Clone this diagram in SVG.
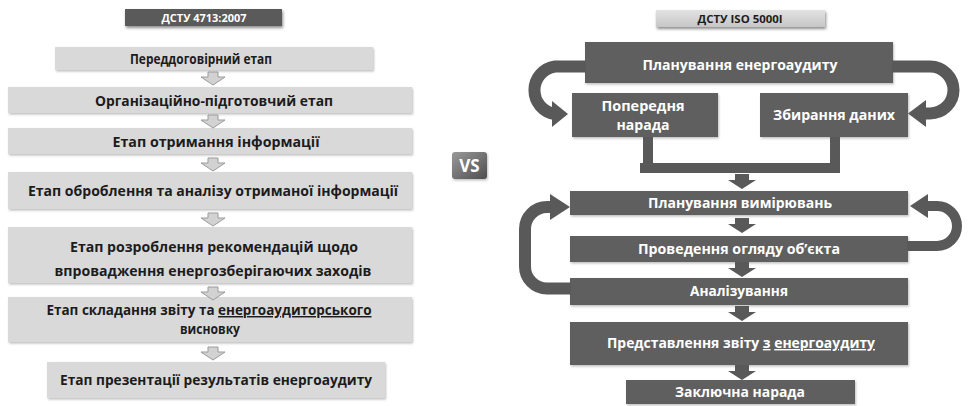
<svg xmlns="http://www.w3.org/2000/svg" xmlns:xlink="http://www.w3.org/1999/xlink" width="973" height="406" viewBox="0 0 973 406">
<style>
text{font-family:"Open Sans","Noto Sans","DejaVu Sans",sans-serif;font-weight:700;text-anchor:middle}
.lb{fill:#d9d9d9;filter:url(#sh)}
.lt{fill:#1c1c1c;font-size:14.5px}
.rb{fill:#5e5e5e;filter:url(#sh)}
.rt{fill:#ffffff;font-size:14px}
.la{fill:#d2d2d2;stroke:#9a9a9a;stroke-width:1}
.ra{fill:#595959}
.band{fill:none;stroke:#595959;stroke-width:12}
.ul{text-decoration:underline}
</style>
<defs>
<filter id="sh" x="-5%" y="-20%" width="110%" height="150%">
<feDropShadow dx="1" dy="1.5" stdDeviation="1" flood-color="#000" flood-opacity="0.25"/>
</filter>
<filter id="sh2" x="-10%" y="-30%" width="120%" height="180%">
<feDropShadow dx="1" dy="2" stdDeviation="1.5" flood-color="#000" flood-opacity="0.45"/>
</filter>
<linearGradient id="gt" x1="0" y1="0" x2="0" y2="1">
<stop offset="0" stop-color="#e2e2e2"/><stop offset="1" stop-color="#c6c6c6"/>
</linearGradient>
<linearGradient id="gvs" x1="0" y1="0" x2="1" y2="1">
<stop offset="0" stop-color="#9a9a9a"/><stop offset="1" stop-color="#4e4e4e"/>
</linearGradient>
<path id="la" d="M-5,0 H5 V5 H12 L0,13 L-12,5 H-5 Z"/>
<path id="ra" d="M-7,0 H7 V6 H14 L0,15 L-14,6 H-7 Z"/>
</defs>

<!-- Left column -->
<g id="title-left">
<rect x="125" y="9" width="157" height="17" fill="#5a5a5a" filter="url(#sh2)"/>
<text x="204" y="21.5" fill="#fff" font-size="10.5" textLength="85" lengthAdjust="spacingAndGlyphs">ДСТУ 4713:2007</text>
</g>
<g id="l1">
<rect class="lb" x="55" y="47" width="318" height="23"/>
<text class="lt" x="201" y="63.5" textLength="142" lengthAdjust="spacingAndGlyphs">Переддоговірний етап</text>
</g>
<g id="l2">
<rect class="lb" x="8" y="87" width="404" height="26"/>
<text class="lt" x="214" y="105.5" textLength="238" lengthAdjust="spacingAndGlyphs">Організаційно-підготовчий етап</text>
</g>
<g id="l3">
<rect class="lb" x="8" y="128" width="404" height="26"/>
<text class="lt" x="216" y="146.5" textLength="207" lengthAdjust="spacingAndGlyphs">Етап отримання інформації</text>
</g>
<g id="l4">
<rect class="lb" x="8" y="172" width="404" height="37"/>
<text class="lt" x="213" y="195.5" textLength="370" lengthAdjust="spacingAndGlyphs">Етап оброблення та аналізу отриманої інформації</text>
</g>
<g id="l5">
<rect class="lb" x="8" y="227" width="404" height="56"/>
<text class="lt" x="214" y="252" textLength="288" lengthAdjust="spacingAndGlyphs">Етап розроблення рекомендацій щодо</text>
<text class="lt" x="213" y="276" textLength="317" lengthAdjust="spacingAndGlyphs">впровадження енергозберігаючих заходів</text>
</g>
<g id="l6">
<rect class="lb" x="8" y="297" width="404" height="45"/>
<text class="lt" x="209" y="315" textLength="325" lengthAdjust="spacingAndGlyphs">Етап складання звіту та <tspan class="ul">енергоаудиторського</tspan></text>
<text class="lt" x="210" y="334" textLength="60" lengthAdjust="spacingAndGlyphs">висновку</text>
</g>
<g id="l7">
<rect class="lb" x="47" y="362" width="338" height="36"/>
<text class="lt" x="216" y="384.5" textLength="312" lengthAdjust="spacingAndGlyphs">Етап презентації результатів енергоаудиту</text>
</g>

<g id="vs">
<rect x="452" y="152" width="35" height="27" rx="3" fill="url(#gvs)" filter="url(#sh)"/>
<text x="469.5" y="172" fill="#fff" font-size="17" font-weight="600">VS</text>
</g>

<!-- Right column -->
<g id="title-right">
<rect x="656" y="10" width="169" height="17" fill="url(#gt)" filter="url(#sh2)"/>
<text x="740" y="22.5" fill="#1c1c1c" font-size="10.5" textLength="85" lengthAdjust="spacingAndGlyphs">ДСТУ ISO 5000I</text>
</g>
<g id="r1">
<rect class="rb" x="585" y="42" width="308" height="41"/>
<text class="rt" x="740" y="70" textLength="195" lengthAdjust="spacingAndGlyphs">Планування енергоаудиту</text>
</g>
<g id="r2a">
<rect class="rb" x="572" y="93" width="146" height="44"/>
<text class="rt" x="643" y="111" textLength="83" lengthAdjust="spacingAndGlyphs">Попередня</text>
<text class="rt" x="643" y="130" textLength="53" lengthAdjust="spacingAndGlyphs">нарада</text>
</g>
<g id="r2b">
<rect class="rb" x="760" y="93" width="148" height="44"/>
<text class="rt" x="834" y="120" textLength="122" lengthAdjust="spacingAndGlyphs">Збирання даних</text>
</g>
<g id="r3">
<rect class="rb" x="570" y="191" width="338" height="24"/>
<text class="rt" x="740" y="208" textLength="184" lengthAdjust="spacingAndGlyphs">Планування вимірювань</text>
</g>
<g id="r4">
<rect class="rb" x="570" y="236" width="338" height="26"/>
<text class="rt" x="739" y="254" textLength="202" lengthAdjust="spacingAndGlyphs">Проведення огляду об’єкта</text>
</g>
<g id="r5">
<rect class="rb" x="570" y="278" width="338" height="27"/>
<text class="rt" x="739" y="296" textLength="98" lengthAdjust="spacingAndGlyphs">Аналізування</text>
</g>
<g id="r6">
<rect class="rb" x="570" y="322" width="338" height="43"/>
<text class="rt" x="741" y="348" textLength="268" lengthAdjust="spacingAndGlyphs">Представлення звіту <tspan class="ul">з</tspan> <tspan class="ul">енергоаудиту</tspan></text>
</g>
<g id="r7">
<rect class="rb" x="626" y="380" width="229" height="24"/>
<text class="rt" x="740" y="397" textLength="130" lengthAdjust="spacingAndGlyphs">Заключна нарада</text>
</g>

<g id="connectors">
<!-- left arrows -->
<use href="#la" class="la" x="213" y="72"/>
<use href="#la" class="la" x="213" y="115"/>
<use href="#la" class="la" x="213" y="158"/>
<use href="#la" class="la" x="213" y="213"/>
<use href="#la" class="la" x="213" y="287"/>
<use href="#la" class="la" x="213" y="347"/>
<!-- right top curved arrows -->
<path class="band" d="M586,66.5 H555 A24,24 0 0 0 555,114 H553"/>
<polygon class="ra" points="552,101 568,114 552,127"/>
<path class="band" d="M892,66.5 H930 A23.5,23.5 0 0 1 930,113.5 H925"/>
<polygon class="ra" points="926,100 908,113.5 926,127"/>
<!-- merge bars -->
<rect class="ra" x="643" y="137" width="10" height="30"/>
<rect class="ra" x="830" y="137" width="10" height="30"/>
<rect class="ra" x="640" y="163" width="200" height="10"/>
<!-- down arrows -->
<use href="#ra" class="ra" x="742" y="174"/>
<use href="#ra" class="ra" x="742" y="218"/>
<use href="#ra" class="ra" x="742" y="262"/>
<use href="#ra" class="ra" x="742" y="306"/>
<use href="#ra" class="ra" x="742" y="365"/>
<!-- loops -->
<path class="band" d="M907,246 H937 A20,20 0 0 0 937,206 H926" style="stroke-width:10"/>
<polygon class="ra" points="928,194 910,206 928,218"/>
<path class="band" d="M571,288.5 H547 A22,22 0 0 1 525,266.5 V229 A22,22 0 0 1 547,207 H552"/>
<polygon class="ra" points="550,194 570,207 550,220"/>
</g>
</svg>
